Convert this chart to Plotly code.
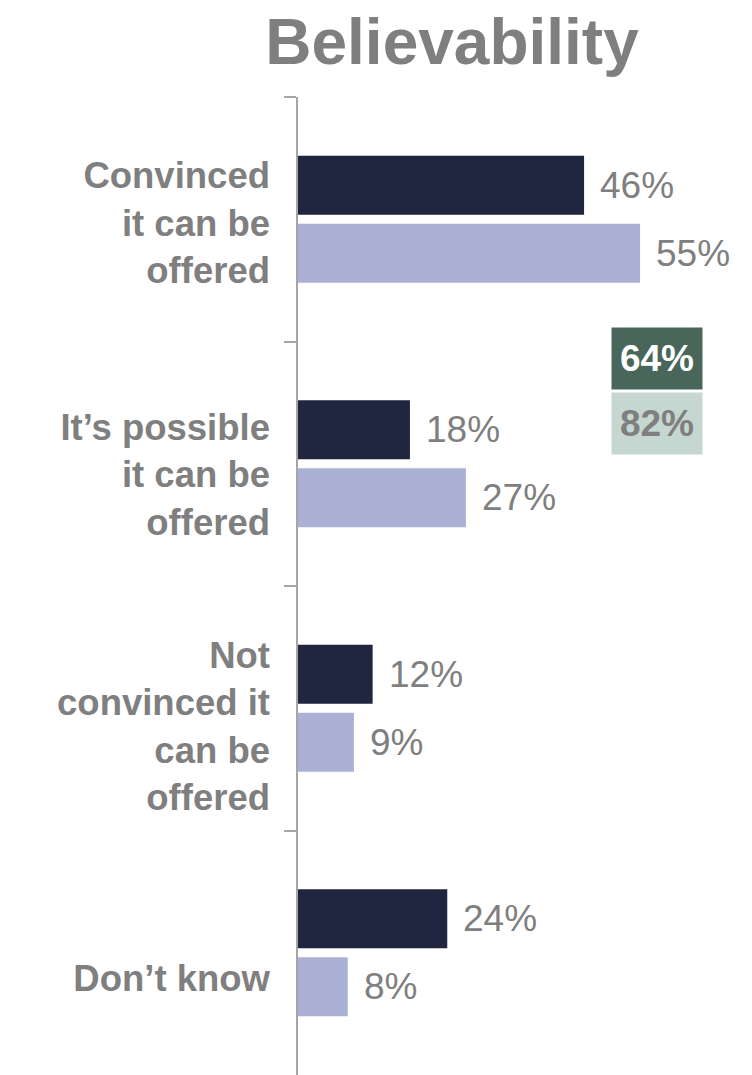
import plotly.graph_objects as go

GRAY = "#7F7F7F"
NAVY = "#212640"
LAVENDER = "#ABB1D4"
FOREST = "#48675A"
MIST = "#C5D7D0"
AXIS = "#A6A6A6"
FONT = "Liberation Sans, Arial, sans-serif"

categories = [
    "Convinced<br>it can be<br>offered",
    "It’s possible<br>it can be<br>offered",
    "Not<br>convinced it<br>can be<br>offered",
    "Don’t know",
]
series_a = [46, 18, 12, 24]   # dark bars
series_b = [55, 27, 9, 8]     # light bars

# top-two-box totals shown in the side boxes
top2_a = series_a[0] + series_a[1]
top2_b = series_b[0] + series_b[1]

# page body has an 8px margin, so the figure is sized to fill what's left
W, H = 744, 1067

fig = go.Figure()
fig.add_trace(go.Bar(y=categories, x=series_a, orientation="h",
                     marker=dict(color=NAVY, line=dict(width=0)), name="A"))
fig.add_trace(go.Bar(y=categories, x=series_b, orientation="h",
                     marker=dict(color=LAVENDER, line=dict(width=0)), name="B"))
# invisible carrier for the category labels (they sit a touch lower than the bars)
fig.add_trace(go.Scatter(y=categories, x=[0] * len(categories), yaxis="y2",
                         mode="markers", marker=dict(opacity=0), hoverinfo="skip"))

# value labels just past the bar ends
for vals, shift in ((series_a, 34), (series_b, -34)):
    for cat, v in zip(categories, vals):
        fig.add_annotation(x=v, y=cat, xref="x", yref="y", text=f"{v}%",
                           showarrow=False, xanchor="left", yanchor="middle",
                           xshift=14, yshift=shift,
                           font=dict(family=FONT, size=37, color=GRAY))

# summary boxes
fig.add_annotation(x=0.791, y=0.733, xref="paper", yref="paper", text=f"<b>{top2_a}%</b>",
                   showarrow=False, xanchor="center", yanchor="middle",
                   bgcolor=FOREST, width=90, height=61, borderpad=0,
                   font=dict(family=FONT, size=37, color="white"))
fig.add_annotation(x=0.791, y=0.666, xref="paper", yref="paper", text=f"<b>{top2_b}%</b>",
                   showarrow=False, xanchor="center", yanchor="middle",
                   bgcolor=MIST, width=90, height=61, borderpad=0,
                   font=dict(family=FONT, size=37, color=GRAY))

fig.update_layout(
    width=W, height=H,
    paper_bgcolor="white", plot_bgcolor="white",
    margin=dict(l=290, r=0, t=89, b=0, autoexpand=False),
    showlegend=False,
    barmode="group", bargap=0.444, bargroupgap=0.132,
    title=dict(text="<b>Believability</b>", x=444 / W, xanchor="center",
               y=1 - 34 / H, yanchor="middle", yref="container",
               font=dict(family=FONT, size=64, color=GRAY)),
    xaxis=dict(range=[0, 73], showgrid=False, zeroline=False, showticklabels=False,
               showline=False, ticks="", automargin=False),
    yaxis=dict(autorange=False, range=[3.5, -0.5], showgrid=False, zeroline=False,
               showline=True, linecolor=AXIS, linewidth=2,
               ticks="outside", ticklen=12, tickcolor=AXIS, tickwidth=2,
               tickson="boundaries", showticklabels=False, automargin=False),
    yaxis2=dict(overlaying="y", side="left", autorange=False, range=[3.385, -0.5006],
                showgrid=False, zeroline=False, showline=False, ticks="",
                automargin=False, ticklabelstandoff=27,
                tickfont=dict(family=FONT, size=36.5, color=GRAY, weight="bold")),
)

fig.write_html("out.html")
